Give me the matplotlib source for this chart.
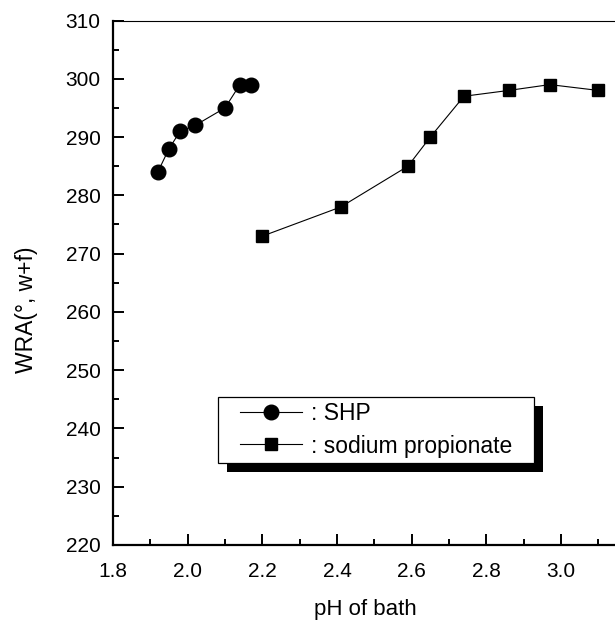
import matplotlib.pyplot as plt
from matplotlib.patches import Rectangle
from matplotlib.ticker import MultipleLocator

plt.rcParams['font.family'] = ['Liberation Sans', 'DejaVu Sans']

# Data
shp_ph = [1.92, 1.95, 1.98, 2.02, 2.10, 2.14, 2.17]
shp_wra = [284, 288, 291, 292, 295, 299, 299]
prop_ph = [2.20, 2.41, 2.59, 2.65, 2.74, 2.86, 2.97, 3.10]
prop_wra = [273, 278, 285, 290, 297, 298, 299, 298]

W, H = 615, 622
ax_w, ax_h = 504, 524.5

fig = plt.figure(figsize=(W / 100, H / 100), dpi=100)
ax = fig.add_axes([113 / W, 77 / H, ax_w / W, ax_h / H])

ax.plot(shp_ph, shp_wra, color='black', lw=0.8, marker='o', ms=10.5,
        label=': SHP')
ax.plot(prop_ph, prop_wra, color='black', lw=0.8, marker='s', ms=8.5,
        label=': sodium propionate')

ax.set_xlim(1.8, 3.15)
ax.set_ylim(220, 310)
ax.xaxis.set_major_locator(MultipleLocator(0.2))
ax.xaxis.set_minor_locator(MultipleLocator(0.1))
ax.yaxis.set_major_locator(MultipleLocator(10))
ax.yaxis.set_minor_locator(MultipleLocator(5))
ax.xaxis.set_major_formatter(plt.FormatStrFormatter('%.1f'))
ax.tick_params(which='both', direction='in', labelsize=15, width=1.4,
               top=False, right=False)
ax.tick_params(which='major', length=8)
ax.tick_params(which='minor', length=4.5)
ax.tick_params(axis='x', pad=12)
ax.tick_params(axis='y', pad=9)
ax.spines['left'].set_linewidth(1.6)
ax.spines['bottom'].set_linewidth(1.6)
ax.spines['top'].set_linewidth(0.8)
ax.spines['right'].set_visible(False)

ax.set_xlabel('pH of bath', fontsize=16, labelpad=13)
ax.set_ylabel('WRA(°, w+f)', fontsize=16.5)
ax.yaxis.set_label_coords((38 - 113) / ax_w, 0.449)

leg = ax.legend(loc='upper left', bbox_to_anchor=(0.252, 0.272),
                fontsize=16.5, handlelength=2.7, handletextpad=0.4,
                borderpad=0, borderaxespad=0, labelspacing=0.4,
                frameon=False)
leg.set_zorder(6)

# legend frame with wide side padding and a thick black drop shadow
fig.canvas.draw()
bb = leg.get_window_extent().transformed(ax.transAxes.inverted())
px, py = 22 / ax_w, 5 / ax_h
fx, fy = bb.x0 - px, bb.y0 - py
fw, fh = bb.width + 2 * px, bb.height + 2 * py
ax.add_patch(Rectangle((fx, fy), fw, fh, transform=ax.transAxes,
                       facecolor='white', edgecolor='black', lw=0.9,
                       zorder=5.5, clip_on=False))
ax.add_patch(Rectangle((fx + 9 / ax_w, fy - 9 / ax_h), fw, fh,
                       transform=ax.transAxes, facecolor='black',
                       edgecolor='none', zorder=5.4, clip_on=False))

fig.savefig('out.png', dpi=100)
